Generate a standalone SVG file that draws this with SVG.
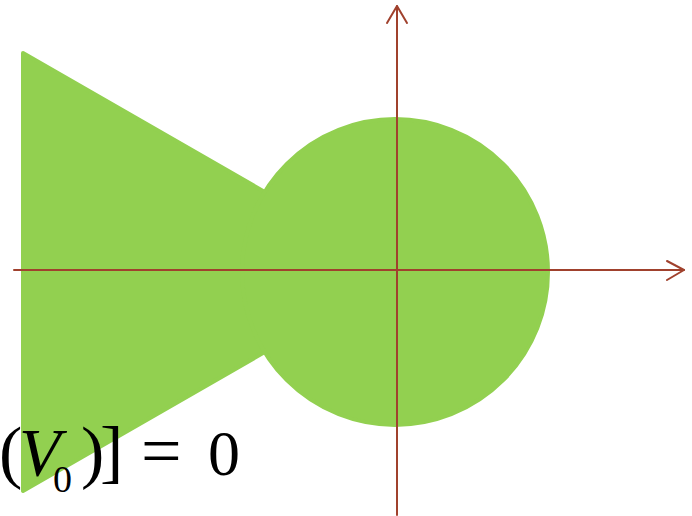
<svg xmlns="http://www.w3.org/2000/svg" width="692" height="516" viewBox="0 0 692 516">
  <style>
    .shape { fill: #92d050; stroke: #92d050; stroke-width: 4; stroke-linejoin: round; }
    .axis { stroke: #a0412d; stroke-width: 2; fill: none; stroke-linecap: round; stroke-linejoin: round; }
    .math { font-family: "Liberation Serif", "DejaVu Serif", serif; font-size: 68px; fill: #000; }
    .big { font-size: 70px; }
    .sub { font-size: 38px; }
    .it { font-style: italic; }
  </style>
  <g id="shape">
    <polygon class="shape" points="23,53 404,272 23,491"/>
    <circle class="shape" cx="395" cy="272" r="153"/>
  </g>
  <g id="connectors">
    <line class="axis" x1="14" y1="270" x2="684" y2="270"/>
    <polyline class="axis" points="667,261 684,270 667,280"/>
    <line class="axis" x1="397" y1="515" x2="397" y2="6"/>
    <polyline class="axis" points="387,23 397,6 407,23"/>
  </g>
  <g id="label">
    <text class="math big" x="-1" y="475">(</text>
    <text class="math it" x="19" y="475">V</text>
    <text class="math sub" x="53" y="492">0</text>
    <text class="math big" x="81" y="475">)</text>
    <text class="math big" x="100" y="475">]</text>
    <text class="math" x="141" y="475" style="font-size:72px">=</text>
    <text class="math" x="208" y="475" style="font-size:64px">0</text>
  </g>
</svg>
